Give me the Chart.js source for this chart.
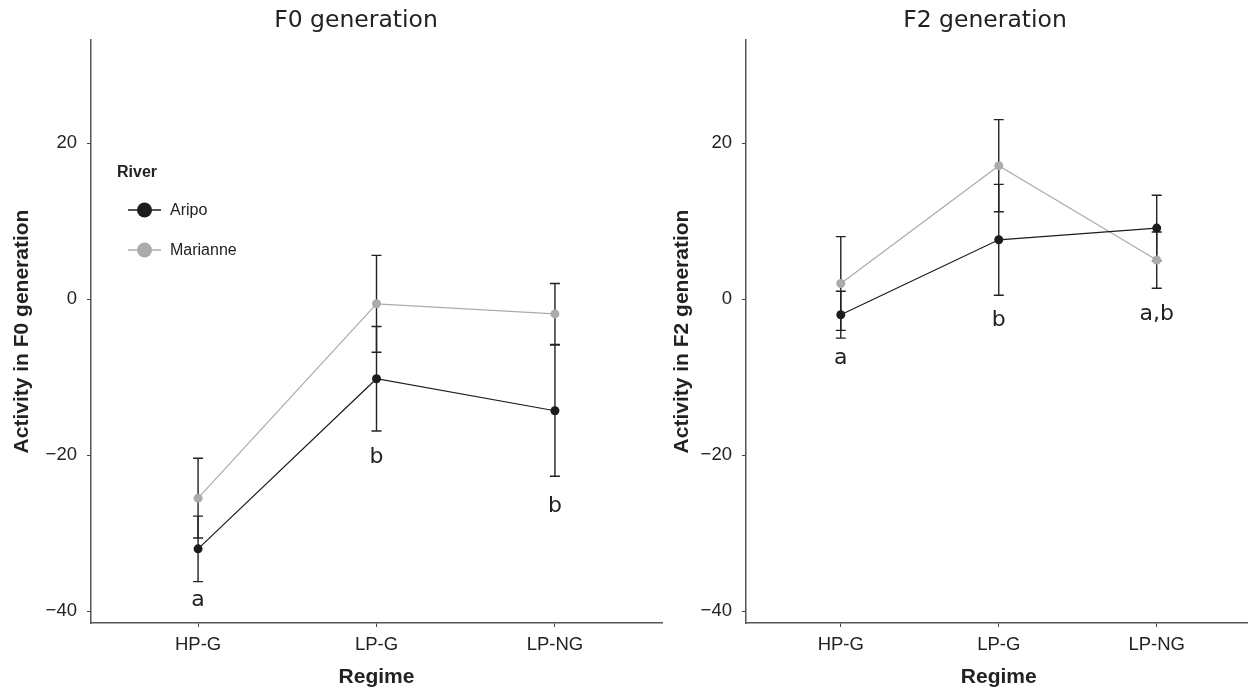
<!DOCTYPE html>
<html>
<head>
<meta charset="utf-8">
<script src="https://cdn.jsdelivr.net/npm/chart.js@4.4.0/dist/chart.umd.min.js"></script>
<style>
body { margin:0; background:#fff; width:1248px; height:688px; overflow:hidden; position:relative; }
#left { position:absolute; left:0; top:0; }
#right { position:absolute; left:670px; top:0; }
</style>
</head>
<body>
<canvas id="left" width="670" height="688"></canvas>
<canvas id="right" width="586" height="688"></canvas>
<script>
const regimes = ["HP-G", "LP-G", "LP-NG"];
const rivers = ["Aripo", "Marianne"];
const yTicks = [-40, -20, 0, 20];

// F0 generation (mean, error)
const f0Aripo = [-32.0, -10.2, -14.3];
const f0AripoErr = [4.2, 6.7, 8.4];
const f0Marianne = [-25.5, -0.6, -1.9];
const f0MarianneErr = [5.1, 6.2, 3.9];
const f0Letters = ["a", "b", "b"];
const f0LetterY = [-38.6, -20.3, -26.5];

// F2 generation
const f2Aripo = [-2.0, 7.6, 9.1];
const f2AripoErr = [3.0, 7.1, 4.2];
const f2Marianne = [2.0, 17.1, 5.0];
const f2MarianneErr = [6.0, 5.9, 3.6];
const f2Letters = ["a", "b", "a,b"];
const f2LetterY = [-7.6, -2.7, -1.9];

const colAripo = "#1c1c1c";
const colMarianne = "#ababab";

const toPts = (arr) => arr.map((v, i) => ({ x: i + 1, y: v }));

// error bars, letters, title, legend
const extras = {
    id: "extras",
    beforeDatasetsDraw(chart, args, opts) {
        const ctx = chart.ctx;
        const xs = chart.scales.x, ys = chart.scales.y;
        ctx.save();
        ctx.strokeStyle = "#222";
        ctx.lineWidth = 1.4;
        opts.bars.forEach((b) => {
            b.mean.forEach((m, i) => {
                const x = xs.getPixelForValue(i + 1);
                const y1 = ys.getPixelForValue(m - b.err[i]);
                const y2 = ys.getPixelForValue(m + b.err[i]);
                ctx.beginPath();
                ctx.moveTo(x, y1); ctx.lineTo(x, y2);
                ctx.moveTo(x - 5, y1); ctx.lineTo(x + 5, y1);
                ctx.moveTo(x - 5, y2); ctx.lineTo(x + 5, y2);
                ctx.stroke();
            });
        });
        ctx.restore();
    },
    afterDraw(chart, args, opts) {
        const ctx = chart.ctx;
        const xs = chart.scales.x, ys = chart.scales.y;
        ctx.save();
        ctx.fillStyle = "#222";
        ctx.textAlign = "center";
        ctx.textBaseline = "middle";
        ctx.font = "23.5px 'DejaVu Sans'";
        ctx.fillText(opts.title, opts.titleX, 21);
        ctx.font = "22px 'DejaVu Sans'";
        opts.letters.forEach((l, i) => {
            ctx.fillText(l, xs.getPixelForValue(i + 1), ys.getPixelForValue(opts.letterY[i]));
        });
        if (opts.legend) {
            ctx.textAlign = "left";
            ctx.font = "bold 16px 'Liberation Sans'";
            ctx.fillText("River", 117, 173);
            ctx.font = "16px 'Liberation Sans'";
            [colAripo, colMarianne].forEach((c, i) => {
                const y = 210 + i * 40;
                ctx.strokeStyle = c;
                ctx.lineWidth = 1.5;
                ctx.beginPath(); ctx.moveTo(128, y); ctx.lineTo(161, y); ctx.stroke();
                ctx.fillStyle = c;
                ctx.beginPath(); ctx.arc(144.5, y, 7.5, 0, Math.PI * 2); ctx.fill();
                ctx.fillStyle = "#222";
                ctx.fillText(rivers[i], 170, y + 1);
            });
        }
        ctx.restore();
    }
};

function makeChart(id, gen, aripo, aripoErr, marianne, marianneErr, letters, letterY, opt) {
    return new Chart(document.getElementById(id), {
        type: "line",
        data: {
            datasets: [
                {
                    label: rivers[0],
                    data: toPts(aripo),
                    borderColor: colAripo,
                    backgroundColor: colAripo,
                    borderWidth: 1.2,
                    pointRadius: 4.5,
                    pointBorderWidth: 0,
                },
                {
                    label: rivers[1],
                    data: toPts(marianne),
                    borderColor: colMarianne,
                    backgroundColor: colMarianne,
                    borderWidth: 1.2,
                    pointRadius: 4.5,
                    pointBorderWidth: 0,
                },
            ],
        },
        options: {
            responsive: false,
            animation: false,
            layout: { padding: { top: 40, right: opt.padRight, left: 0, bottom: 0 } },
            plugins: {
                legend: { display: false },
                tooltip: { enabled: false },
                extras: {
                    title: gen + " generation",
                    titleX: opt.titleX,
                    letters: letters,
                    letterY: letterY,
                    legend: opt.legend,
                    bars: [
                        { mean: aripo, err: aripoErr },
                        { mean: marianne, err: marianneErr },
                    ],
                },
            },
            scales: {
                x: {
                    type: "linear",
                    min: 0.4,
                    max: 3.6,
                    afterBuildTicks: (s) => { s.ticks = regimes.map((r, i) => ({ value: i + 1 })); },
                    afterFit: (s) => { s.height = 65; },
                    ticks: {
                        callback: (v) => regimes[v - 1],
                        font: { family: "Liberation Sans", size: 18.5 },
                        color: "#222",
                        padding: 7,
                        maxRotation: 0,
                    },
                    grid: { drawOnChartArea: false, tickLength: 4, color: "#444" },
                    border: { display: true, color: "#555", width: 1.5 },
                    title: {
                        display: true,
                        text: "Regime",
                        font: { family: "Liberation Sans", size: 21, weight: "bold" },
                        color: "#222",
                        padding: { top: 2, bottom: -2 },
                    },
                },
                y: {
                    min: -41.5,
                    max: 33.2,
                    afterBuildTicks: (s) => { s.ticks = yTicks.map((v) => ({ value: v })); },
                    afterFit: (s) => { s.width = opt.yWidth; },
                    ticks: {
                        callback: (v) => String(v).replace("-", "\u2212"),
                        font: { family: "Liberation Sans", size: 18.5 },
                        color: "#222",
                        padding: 10,
                    },
                    grid: { drawOnChartArea: false, tickLength: 4, color: "#444" },
                    border: { display: true, color: "#555", width: 1.5 },
                    title: {
                        display: true,
                        text: "Activity in " + gen + " generation",
                        font: { family: "Liberation Sans", size: 21, weight: "bold" },
                        color: "#222",
                        padding: { top: opt.yTitlePad, bottom: 0 },
                    },
                },
            },
        },
        plugins: [extras],
    });
}

makeChart("left", "F0", f0Aripo, f0AripoErr, f0Marianne, f0MarianneErr, f0Letters, f0LetterY,
    { padRight: 8, yWidth: 91, yTitlePad: 10, titleX: 356, legend: true });
makeChart("right", "F2", f2Aripo, f2AripoErr, f2Marianne, f2MarianneErr, f2Letters, f2LetterY,
    { padRight: 0, yWidth: 76, yTitlePad: 0, titleX: 985 - 670, legend: false });
</script>
</body>
</html>
